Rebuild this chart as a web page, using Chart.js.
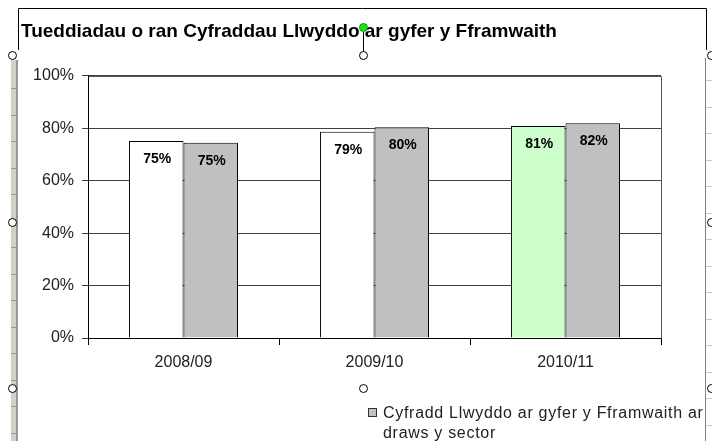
<!DOCTYPE html>
<html>
<head>
<meta charset="utf-8">
<script src="https://cdn.jsdelivr.net/npm/chart.js@4.4.1/dist/chart.umd.min.js"></script>
<style>
html,body{margin:0;padding:0;background:#ffffff;}
#wrap{width:712px;height:441px;position:relative;overflow:hidden;}
canvas{display:block;}
</style>
</head>
<body>
<div id="wrap"><canvas id="c" width="712" height="441"></canvas></div>
<script>
// ---- data ----
const chartTitle = 'Tueddiadau o ran Cyfraddau Llwyddo ar gyfer y Fframwaith';
const categories = ['2008/09', '2009/10', '2010/11'];
const providerLabel = 'Cyfradd Llwyddo ar gyfer y Fframwaith';
const providerValues = [75.1, 78.7, 80.9];
const sectorLabel = 'Cyfradd Llwyddo ar gyfer y Fframwaith ar draws y sector';
const sectorValues = [74.5, 80.4, 81.9];
const yTickValues = [0, 20, 40, 60, 80, 100];

// ---- styles ----
const FONT = "'Liberation Sans', Arial, sans-serif";
const providerColors = ['#ffffff', '#ffffff', '#ccffcc'];
const sectorColor = '#c0c0c0';

const plotBorder = {
  id: 'plotBorder',
  beforeDatasetsDraw(chart) {
    const a = chart.chartArea, ctx = chart.ctx;
    ctx.save();
    ctx.strokeStyle = '#555555';
    ctx.lineWidth = 1;
    ctx.beginPath();
    ctx.moveTo(Math.round(a.left) + 0.5, Math.round(a.top) + 0.5);
    ctx.lineTo(Math.round(a.right) + 0.5, Math.round(a.top) + 0.5);
    ctx.lineTo(Math.round(a.right) + 0.5, Math.round(a.bottom) + 0.5);
    ctx.stroke();
    ctx.restore();
  }
};

const barLabels = {
  id: 'barLabels',
  afterDatasetsDraw(chart) {
    const ctx = chart.ctx;
    ctx.save();
    ctx.font = 'bold 14px ' + FONT;
    ctx.fillStyle = '#000000';
    ctx.textAlign = 'center';
    ctx.textBaseline = 'middle';
    chart.data.datasets.forEach((ds, di) => {
      const meta = chart.getDatasetMeta(di);
      meta.data.forEach((bar, i) => {
        ctx.fillText(Math.round(ds.data[i]) + '%', bar.x + 1, bar.y + 18);
      });
    });
    ctx.restore();
  }
};

const sideLegend = {
  id: 'sideLegend',
  afterDraw(chart) {
    const ctx = chart.ctx;
    const ds = chart.data.datasets[1];
    const x = 368, y = 408, textX = 383, maxW = 330;
    ctx.save();
    ctx.fillStyle = ds.backgroundColor;
    ctx.fillRect(x, y, 8, 8);
    ctx.strokeStyle = '#333333';
    ctx.lineWidth = 1;
    ctx.strokeRect(x + 0.5, y + 0.5, 8, 8);
    ctx.font = '16px ' + FONT;
    if ('letterSpacing' in ctx) ctx.letterSpacing = '0.7px';
    ctx.fillStyle = '#222222';
    ctx.textAlign = 'left';
    ctx.textBaseline = 'alphabetic';
    const words = ds.label.split(' ');
    const lines = [];
    let cur = '';
    words.forEach(w => {
      const t = cur ? cur + ' ' + w : w;
      if (ctx.measureText(t).width > maxW && cur) { lines.push(cur); cur = w; }
      else cur = t;
    });
    if (cur) lines.push(cur);
    lines.forEach((ln, i) => ctx.fillText(ln, textX, 418 + i * 20));
    ctx.restore();
  }
};

const frameDeco = {
  id: 'frameDeco',
  afterDraw(chart) {
    const ctx = chart.ctx;
    ctx.save();
    // left ruler strip
    ctx.fillStyle = '#d4d0c8';
    ctx.fillRect(11, 60, 6, 381);
    ctx.fillStyle = '#9a978f';
    ctx.fillRect(16, 60, 2, 381);
    for (let ty = 88; ty < 441; ty += 26.5) ctx.fillRect(11, Math.round(ty), 6, 1);
    // right ruler
    ctx.fillStyle = '#808080';
    ctx.fillRect(705, 58, 1, 383);
    ctx.fillStyle = '#c8c8c8';
    for (let ty = 80; ty < 441; ty += 26.5) ctx.fillRect(706, Math.round(ty), 6, 1);
    // frame lines
    ctx.strokeStyle = '#000000';
    ctx.lineWidth = 1;
    ctx.beginPath();
    ctx.moveTo(18.5, 50); ctx.lineTo(18.5, 8.5); ctx.lineTo(706.5, 8.5); ctx.lineTo(706.5, 50);
    ctx.moveTo(363.5, 32); ctx.lineTo(363.5, 51);
    ctx.stroke();
    // handles
    const handles = [[12, 55], [363, 55], [711, 55], [12, 222], [711, 222], [12, 388], [363, 388], [711, 388]];
    handles.forEach(([hx, hy]) => {
      ctx.beginPath();
      ctx.arc(hx + 0.5, hy + 0.5, 4, 0, Math.PI * 2);
      ctx.fillStyle = '#ffffff';
      ctx.fill();
      ctx.strokeStyle = '#000000';
      ctx.stroke();
    });
    ctx.beginPath();
    ctx.arc(363.5, 27.5, 4, 0, Math.PI * 2);
    ctx.fillStyle = '#22dd22';
    ctx.fill();
    ctx.strokeStyle = '#119911';
    ctx.stroke();
    ctx.restore();
  }
};

new Chart(document.getElementById('c'), {
  type: 'bar',
  data: {
    labels: categories,
    datasets: [
      {
        label: providerLabel,
        data: providerValues,
        backgroundColor: providerColors,
        borderColor: '#000000',
        borderWidth: 1,
        barPercentage: 1.0,
        categoryPercentage: 0.571
      },
      {
        label: sectorLabel,
        data: sectorValues,
        backgroundColor: sectorColor,
        borderColor: '#000000',
        borderWidth: 1,
        barPercentage: 1.0,
        categoryPercentage: 0.571
      }
    ]
  },
  options: {
    responsive: false,
    animation: false,
    devicePixelRatio: 1,
    layout: { padding: { left: 21, right: 51, top: 0, bottom: 63 } },
    plugins: {
      legend: { display: false },
      tooltip: { enabled: false },
      title: {
        display: true,
        text: chartTitle,
        align: 'start',
        color: '#000000',
        font: { family: FONT, size: 19, weight: 'bold' },
        padding: { top: 20, bottom: 33 }
      }
    },
    scales: {
      x: {
        offset: true,
        grid: { offset: true, drawOnChartArea: false, drawTicks: true, tickLength: 7, color: '#000000' },
        border: { display: true, color: '#000000' },
        ticks: { font: { family: FONT, size: 16 }, color: '#222222', padding: 8 },
        afterFit(s) { s.height = 40; }
      },
      y: {
        min: 0,
        max: 100,
        afterBuildTicks(s) { s.ticks = yTickValues.map(v => ({ value: v })); },
        grid: { color: '#404040', tickLength: 6, drawTicks: true },
        border: { display: true, color: '#000000' },
        ticks: { font: { family: FONT, size: 16 }, color: '#222222', padding: 8, callback: v => v + '%' },
        afterFit(s) { s.width = 67; }
      }
    }
  },
  plugins: [plotBorder, barLabels, sideLegend, frameDeco]
});
</script>
</body>
</html>
